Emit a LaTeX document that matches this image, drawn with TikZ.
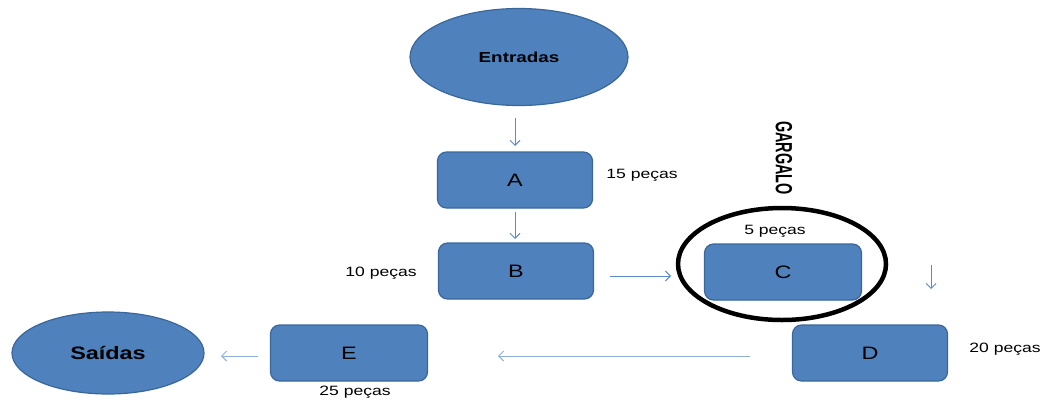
\documentclass[tikz,border=0pt]{standalone}
\usepackage{fontspec}
\setmainfont[FakeStretch=1.3]{Liberation Sans}
\newfontfamily\plainsans{Liberation Sans}
\usetikzlibrary{shapes.geometric,arrows.meta}
\definecolor{boxfill}{HTML}{4F81BD}
\definecolor{boxline}{HTML}{3A679B}
\definecolor{flow}{HTML}{5B8CC8}
\definecolor{flowlight}{HTML}{8FB0DA}
\begin{document}
\begin{tikzpicture}[x=1pt,y=-1pt,
  stage/.style={draw=boxline,line width=1.2pt,fill=boxfill,rounded corners=9pt,
    minimum width=155pt,minimum height=56pt,inner sep=0pt,
    font=\fontsize{18}{20}\selectfont},
  endpoint/.style={ellipse,draw=boxline,line width=1.2pt,fill=boxfill,inner sep=0pt,
    font=\bfseries},
  qty/.style={font=\fontsize{13.5}{15}\selectfont,inner sep=0pt},
  flowarrow/.style={draw=flow,line width=0.9pt,-{Straight Barb[length=5pt,width=10pt]}}
]
\useasboundingbox (0,0) rectangle (1043,400);

% start and end of the line
\node[endpoint,minimum width=218pt,minimum height=97pt,font=\bfseries\fontsize{14.5}{16}\selectfont] (in) at (519,57) {Entradas};
\node[endpoint,minimum width=192pt,minimum height=82pt,font=\bfseries\fontsize{18}{20}\selectfont] (out) at (108,353) {Saídas};

% work stations
\node[stage] (A) at (515,180) {A};
\node[stage] (B) at (516,271) {B};
\node[stage,minimum width=157pt] (C) at (783,272) {C};
\node[stage] (D) at (870,353) {D};
\node[stage,minimum width=157pt] (E) at (349,353) {E};

% capacities
\node[qty] (qA) at (642,175) {15 peças};
\node[qty] (qB) at (381,273) {10 peças};
\node[qty] (qC) at (775,231) {5 peças};
\node[qty] (qD) at (1005,349) {20 peças};
\node[qty] (qE) at (355,392) {25 peças};

% the bottleneck
\node[ellipse,draw=black,line width=4.5pt,minimum width=208pt,minimum height=112pt,inner sep=0pt] (neck) at (782,264) {};
\node[rotate=-90,inner sep=0pt,font=\plainsans\bfseries\fontsize{18}{20}\selectfont] (label) at (784,158) {\scalebox{0.8}[1.3]{GARGALO}};

% flow between stations
\coordinate (a1) at (515,118); \coordinate (a2) at (515,146);
\coordinate (b1) at (515,212); \coordinate (b2) at (515,239);
\coordinate (c1) at (610,276); \coordinate (c2) at (671,276);
\coordinate (d1) at (931,265); \coordinate (d2) at (931,289);
\coordinate (e1) at (750,356); \coordinate (e2) at (498,356);
\coordinate (f1) at (258,356); \coordinate (f2) at (221,356);
\draw[flowarrow] (a1) -- (a2);
\draw[flowarrow] (b1) -- (b2);
\draw[flowarrow] (c1) -- (c2);
\draw[flowarrow] (d1) -- (d2);
\draw[flowarrow,draw=flowlight] (e1) -- (e2);
\draw[flowarrow,draw=flowlight] (f1) -- (f2);
\end{tikzpicture}
\end{document}
